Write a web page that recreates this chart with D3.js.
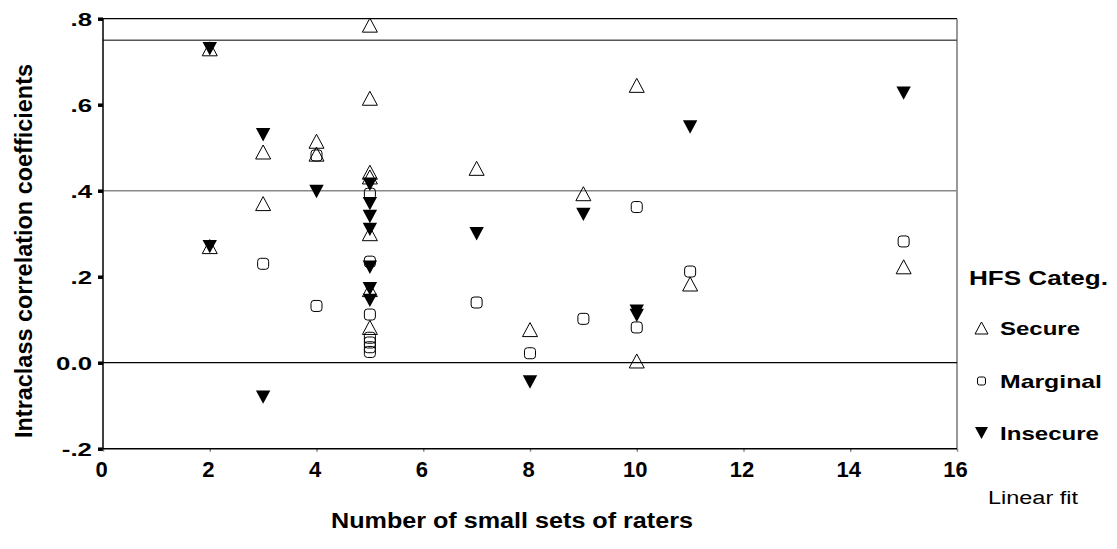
<!DOCTYPE html>
<html>
<head>
<meta charset="utf-8">
<script src="https://cdn.jsdelivr.net/npm/d3@7"></script>
<style>
  body { margin: 0; background: #fff; }
  svg { display: block; }
  text { font-family: "Liberation Sans", Arial, sans-serif; fill: #000; }
</style>
</head>
<body>
<svg id="chart" width="1117" height="549"></svg>
<script>
    // data
    var secureX = [2, 2, 3, 3, 4, 4, 5, 5, 5, 5, 5, 5, 5, 7, 8, 9, 10, 10, 11, 15];
    var secureY = [0.73, 0.27, 0.49, 0.37, 0.515, 0.485, 0.785, 0.615, 0.443, 0.432, 0.30, 0.17, 0.082, 0.452, 0.077, 0.393, 0.645, 0.004, 0.183, 0.223];

    var marginalX = [3, 4, 4, 5, 5, 5, 5, 5, 5, 5, 7, 8, 9, 10, 10, 11, 15];
    var marginalY = [0.23, 0.482, 0.132, 0.393, 0.235, 0.112, 0.058, 0.047, 0.036, 0.025, 0.14, 0.022, 0.102, 0.362, 0.082, 0.212, 0.282];

    var insecureX = [2, 2, 3, 3, 4, 5, 5, 5, 5, 5, 5, 5, 7, 8, 9, 10, 10, 11, 15];
    var insecureY = [0.73, 0.27, 0.53, -0.08, 0.398, 0.415, 0.37, 0.34, 0.31, 0.222, 0.172, 0.145, 0.30, -0.045, 0.345, 0.12, 0.11, 0.548, 0.627];

    var refLines = [0.75, 0.4, 0];
    var xTicks = [0, 2, 4, 6, 8, 10, 12, 14, 16];
    var yTicks = [0.8, 0.6, 0.4, 0.2, 0, -0.2];
    var yTickLabels = [".8", ".6", ".4", ".2", "0.0", "-.2"];
    var legendNames = ["Secure", "Marginal", "Insecure"];

    var svg = d3.select("#chart");
    var plotLeft = 103, plotRight = 957, plotTop = 18.7, plotBottom = 448.7;

    var x = d3.scaleLinear().domain([0, 16]).range([plotLeft, plotRight]);
    var y = d3.scaleLinear().domain([-0.2, 0.8]).range([plotBottom, plotTop]);

    // stretch text sideways like the original renderer
    function stretch(sel, f) {
        sel.each(function () {
            var w = this.getComputedTextLength();
            d3.select(this).attr("textLength", w * f).attr("lengthAdjust", "spacingAndGlyphs");
        });
    }

    // frame and reference lines
    svg.append("line").attr("x1", plotLeft).attr("x2", plotRight).attr("y1", y(0.8)).attr("y2", y(0.8))
        .attr("stroke", "#000").attr("stroke-width", 1.2);
    svg.append("line").attr("x1", plotRight).attr("x2", plotRight).attr("y1", y(0.8)).attr("y2", plotBottom)
        .attr("stroke", "#777").attr("stroke-width", 1.5);
    svg.selectAll(".ref").data(refLines).enter().append("line")
        .attr("x1", plotLeft).attr("x2", plotRight)
        .attr("y1", d => y(d)).attr("y2", d => y(d))
        .attr("stroke", (d, i) => ["#555", "#888", "#000"][i])
        .attr("stroke-width", (d, i) => [1.5, 1.5, 1.2][i]);

    // y axis
    var yAxis = svg.append("g").attr("transform", "translate(" + plotLeft + ",0)")
        .call(d3.axisLeft(y).tickValues(yTicks).tickSize(5).tickPadding(6)
            .tickFormat((d, i) => yTickLabels[i]));
    yAxis.select(".domain").remove();
    yAxis.selectAll(".tick line").attr("stroke", "#000").attr("stroke-width", 3.5);
    yAxis.selectAll(".tick text").style("font-size", "17.7px").style("font-weight", "bold")
        .attr("dy", "0.36em").call(stretch, 1.46);
    svg.append("line").attr("x1", plotLeft).attr("x2", plotLeft).attr("y1", y(0.8)).attr("y2", plotBottom)
        .attr("stroke", "#000").attr("stroke-width", 1.5);

    // x axis
    var xAxis = svg.append("g").attr("transform", "translate(0," + plotBottom + ")")
        .call(d3.axisBottom(x).tickValues(xTicks).tickSize(3).tickFormat(d3.format("d")));
    xAxis.select(".domain").remove();
    xAxis.selectAll(".tick line").attr("stroke", "#888").attr("stroke-width", 1.5);
    xAxis.selectAll(".tick text").style("font-size", "22px").style("font-weight", "bold")
        .attr("dy", null).attr("y", 477 - plotBottom).attr("dx", -2);
    svg.append("line").attr("x1", plotLeft).attr("x2", plotRight).attr("y1", plotBottom).attr("y2", plotBottom)
        .attr("stroke", "#000").attr("stroke-width", 1.6);

    // markers
    var triUp = "M0,-7L7.5,7L-7.5,7Z";
    var triDown = "M-7.2,-6.7L7.2,-6.7L0,6.7Z";

    var marginal = marginalX.map((d, i) => ({x: d, y: marginalY[i]}));
    var secure = secureX.map((d, i) => ({x: d, y: secureY[i]}));
    var insecure = insecureX.map((d, i) => ({x: d, y: insecureY[i]}));

    svg.append("g").selectAll("rect").data(marginal).enter().append("rect")
        .attr("x", d => x(d.x) - 5.5).attr("y", d => y(d.y) - 5.5)
        .attr("width", 11).attr("height", 11).attr("rx", 3)
        .attr("fill", "none").attr("stroke", "#000").attr("stroke-width", 1);

    svg.append("g").selectAll("path").data(secure).enter().append("path")
        .attr("d", triUp).attr("transform", d => "translate(" + x(d.x) + "," + y(d.y) + ")")
        .attr("fill", "none").attr("stroke", "#000").attr("stroke-width", 1);

    svg.append("g").selectAll("path").data(insecure).enter().append("path")
        .attr("d", triDown).attr("transform", d => "translate(" + x(d.x) + "," + y(d.y) + ")")
        .attr("fill", "#000");

    // axis titles
    svg.append("text").attr("transform", "translate(31.5,251) rotate(-90)")
        .attr("text-anchor", "middle").style("font-size", "23px").style("font-weight", "bold")
        .attr("textLength", 374).attr("lengthAdjust", "spacingAndGlyphs")
        .text("Intraclass correlation coefficients");
    svg.append("text").attr("x", 512).attr("y", 528)
        .attr("text-anchor", "middle").style("font-size", "22px").style("font-weight", "bold")
        .attr("textLength", 362).attr("lengthAdjust", "spacingAndGlyphs")
        .text("Number of small sets of raters");

    // legend
    svg.append("text").attr("x", 969).attr("y", 285).style("font-size", "20px").style("font-weight", "bold")
        .attr("textLength", 139).attr("lengthAdjust", "spacingAndGlyphs").text("HFS Categ.");

    var legY = [328, 381, 433];
    var legW = [80, 102, 99];
    var lg = svg.append("g");
    lg.append("path").attr("d", "M0,-6L6.5,6L-6.5,6Z")
        .attr("transform", "translate(981.5," + legY[0] + ")")
        .attr("fill", "none").attr("stroke", "#000").attr("stroke-width", 1);
    lg.append("rect").attr("x", 977.5).attr("y", legY[1] - 4).attr("width", 8).attr("height", 8).attr("rx", 2)
        .attr("fill", "none").attr("stroke", "#000").attr("stroke-width", 1);
    lg.append("path").attr("d", "M-6.5,-6L6.5,-6L0,6Z")
        .attr("transform", "translate(981.5," + legY[2] + ")").attr("fill", "#000");
    lg.selectAll("text").data(legendNames).enter().append("text")
        .attr("x", 1000).attr("y", (d, i) => legY[i] + 6.5)
        .style("font-size", "18.5px").style("font-weight", "bold")
        .attr("textLength", (d, i) => legW[i]).attr("lengthAdjust", "spacingAndGlyphs")
        .text(d => d);

    svg.append("text").attr("x", 988).attr("y", 503.5).style("font-size", "18px")
        .attr("textLength", 90).attr("lengthAdjust", "spacingAndGlyphs").text("Linear fit");
</script>
</body>
</html>
